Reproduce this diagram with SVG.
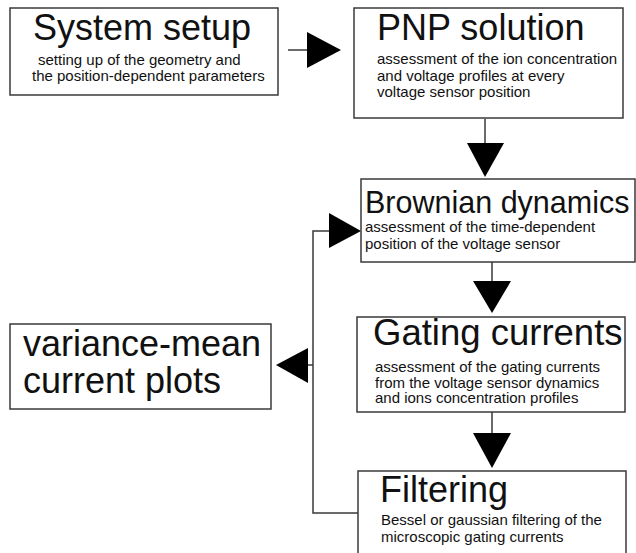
<svg xmlns="http://www.w3.org/2000/svg" width="636" height="553" viewBox="0 0 636 553">
<style>
.box{fill:#fff;stroke:#3a3a3a;stroke-width:1.5}
.ln{fill:none;stroke:#3a3a3a;stroke-width:1.5}
.hd{fill:#000}
.t{font-family:"Liberation Sans",Arial,sans-serif;font-size:36px;fill:#111}
.s{font-family:"Liberation Sans",Arial,sans-serif;font-size:15px;fill:#111}
</style>
<rect width="636" height="553" fill="#fff"/>
<g id="connectors">
<line class="ln" x1="288" y1="50" x2="308" y2="50"/>
<polygon class="hd" points="307,32 307,68 341,50"/>
<line class="ln" x1="485" y1="119" x2="485" y2="144"/>
<polygon class="hd" points="467,143 504,143 485,177"/>
<line class="ln" x1="492" y1="262" x2="492" y2="282"/>
<polygon class="hd" points="473,281 511,281 492,313"/>
<line class="ln" x1="492" y1="412" x2="492" y2="434"/>
<polygon class="hd" points="473,433 511,433 492,468"/>
<polyline class="ln" points="358,513 313,513 313,231 330,231"/>
<polygon class="hd" points="329,213 329,248 361,231"/>
<line class="ln" x1="307" y1="365" x2="313" y2="365"/>
<polygon class="hd" points="308,348 308,383 276,365"/>
</g>
<g id="system-setup">
<rect class="box" x="10" y="8" width="268" height="87"/>
<text class="t" x="33" y="40">System setup</text>
<text class="s" x="38" y="65">setting up of the geometry and</text>
<text class="s" x="32" y="81">the position-dependent parameters</text>
</g>
<g id="pnp-solution">
<rect class="box" x="354" y="8" width="269" height="110"/>
<text class="t" x="377" y="40">PNP solution</text>
<text class="s" x="377" y="64">assessment of the ion concentration</text>
<text class="s" x="377" y="80.5">and voltage profiles at every</text>
<text class="s" x="377" y="97">voltage sensor position</text>
</g>
<g id="brownian-dynamics">
<rect class="box" x="361" y="179" width="274" height="83"/>
<text class="t" x="365" y="213" style="font-size:30.5px">Brownian dynamics</text>
<text class="s" x="365" y="232">assessment of the time-dependent</text>
<text class="s" x="365" y="249">position of the voltage sensor</text>
</g>
<g id="gating-currents">
<rect class="box" x="357" y="317" width="268" height="95"/>
<text class="t" x="373" y="345" style="font-size:36.5px">Gating currents</text>
<text class="s" x="375" y="372">assessment of the gating currents</text>
<text class="s" x="375" y="387.5">from the voltage sensor dynamics</text>
<text class="s" x="375" y="403">and ions concentration profiles</text>
</g>
<g id="filtering">
<rect class="box" x="358" y="471" width="268" height="90"/>
<text class="t" x="380" y="502">Filtering</text>
<text class="s" x="381" y="524.5">Bessel or gaussian filtering of the</text>
<text class="s" x="381" y="541.5">microscopic gating currents</text>
</g>
<g id="variance-mean">
<rect class="box" x="10" y="324" width="261" height="85"/>
<text class="t" x="23" y="356">variance-mean</text>
<text class="t" x="23" y="393">current plots</text>
</g>
</svg>
